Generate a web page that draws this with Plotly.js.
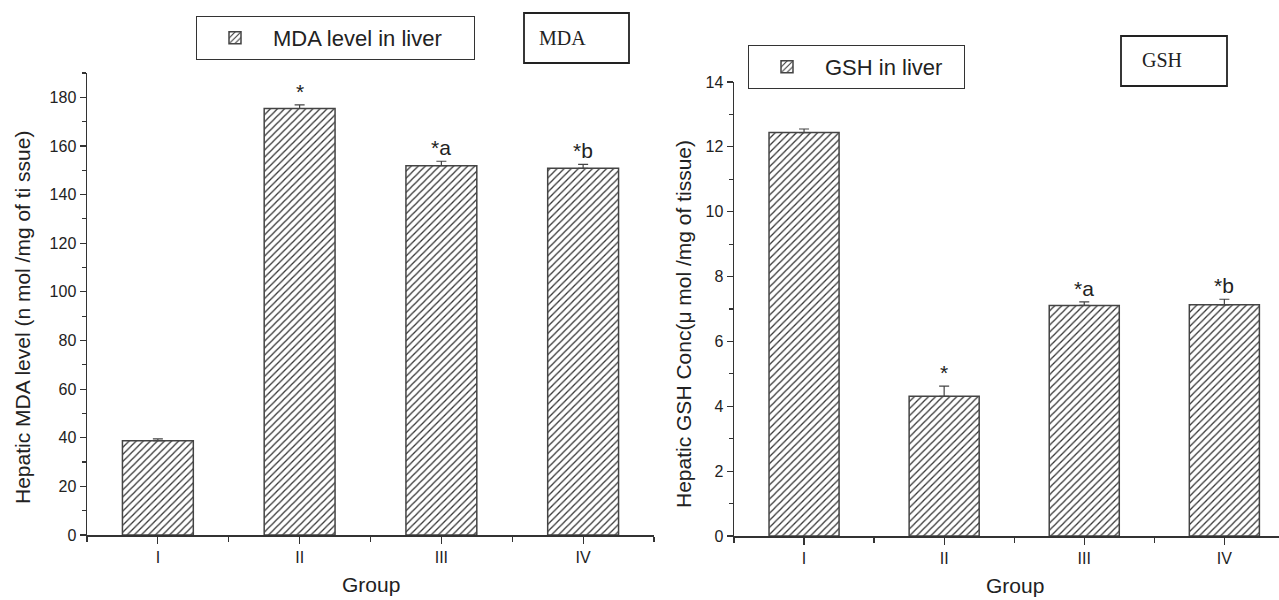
<!DOCTYPE html>
<html>
<head>
<meta charset="utf-8">
<script src="https://cdn.plot.ly/plotly-3.0.1.min.js"></script>
<style>html,body{margin:0;padding:0;background:#fff;}#chart{width:1279px;height:600px;}</style>
</head>
<body>
<div id="chart"></div>
<script>
// ---- data ----
const categories = ["I", "II", "III", "IV"];
const mdaValues = [38.8, 175.4, 151.9, 150.8];
const mdaErrors = [0.7, 1.5, 1.8, 1.6];
const gshValues = [12.44, 4.31, 7.11, 7.13];
const gshErrors = [0.11, 0.31, 0.11, 0.17];
const sigLabels = ["", "*", "*a", "*b"];
const mdaTicks = [0, 20, 40, 60, 80, 100, 120, 140, 160, 180];
const gshTicks = [0, 2, 4, 6, 8, 10, 12, 14];

const xpos = categories.map((c, i) => i + 1);
const zeros = categories.map(() => 0);
const ink = "#333";
const txt = "#222";
const font = "Liberation Sans, Arial, sans-serif";
const serif = "Liberation Serif, Times New Roman, serif";
const W = 1279, H = 600;

function barTrace(vals, errs, name, xa, ya, leg) {
  return {
    type: "bar", x: xpos, y: vals, name: name, xaxis: xa, yaxis: ya, legend: leg,
    width: 0.5, showlegend: true,
    marker: {
      color: "#fff",
      line: {color: "#444", width: 1.5},
      pattern: {shape: "/", fgcolor: "#333", bgcolor: "#fff", size: 5, solidity: 0.25}
    },
    error_y: {type: "data", symmetric: false, array: errs, arrayminus: zeros,
      color: "#444", thickness: 1.2, width: 5},
    hoverinfo: "x+y"
  };
}

const traces = [
  barTrace(mdaValues, mdaErrors, "MDA level in liver", "x", "y", "legend"),
  barTrace(gshValues, gshErrors, "GSH in liver", "x2", "y2", "legend2")
];

function xAxis(domain, range, anchor) {
  return {
    domain: domain, range: range, anchor: anchor, type: "linear",
    tickmode: "array", tickvals: xpos, ticktext: categories,
    ticks: "outside", ticklen: 7, tickwidth: 1.2, tickcolor: ink,
    showline: true, linecolor: ink, linewidth: 1.5, showgrid: false, zeroline: false,
    tickfont: {family: font, size: 16, color: txt},
    minor: {tickmode: "array", tickvals: [0.5, 1.5, 2.5, 3.5, 4.5], ticks: "outside", ticklen: 5, tickwidth: 1.2, tickcolor: ink},
    fixedrange: true
  };
}
function yAxis(domain, range, ticks, anchor) {
  return {
    domain: domain, range: range, anchor: anchor,
    tickmode: "array", tickvals: ticks,
    ticks: "outside", ticklen: 6, tickwidth: 1.2, tickcolor: ink,
    minor: {dtick: (ticks[1] - ticks[0]) / 2, ticks: "outside", ticklen: 4, tickwidth: 1.2, tickcolor: ink},
    showline: true, linecolor: ink, linewidth: 1.5, showgrid: false, zeroline: false,
    tickfont: {family: font, size: 16, color: txt},
    fixedrange: true
  };
}

const annotations = [];
categories.forEach((c, i) => {
  if (sigLabels[i]) {
    annotations.push({xref: "x", yref: "y", x: xpos[i], y: mdaValues[i] + mdaErrors[i],
      text: sigLabels[i], showarrow: false, yanchor: "bottom", yshift: 0,
      font: {family: font, size: 21, color: txt}});
    annotations.push({xref: "x2", yref: "y2", x: xpos[i], y: gshValues[i] + gshErrors[i],
      text: sigLabels[i], showarrow: false, yanchor: "bottom", yshift: 0,
      font: {family: font, size: 21, color: txt}});
  }
});
// axis titles
function title(text, x, y, angle) {
  annotations.push({xref: "paper", yref: "paper", x: x / W, y: 1 - y / H, xanchor: "center", yanchor: "middle",
    text: text, textangle: angle, showarrow: false, font: {family: font, size: 21, color: txt}});
}
title("Hepatic MDA level (n mol /mg of ti ssue)", 22, 318, -90);
title("Hepatic GSH Conc(\u03bc mol /mg of tissue)", 683, 324, -90);
title("Group", 371, 584, 0);
title("Group", 1015, 585, 0);
// boxed labels
annotations.push({xref: "paper", yref: "paper", x: 537 / W, y: 1 - 38 / H, xanchor: "left", yanchor: "middle",
  text: "MDA", showarrow: false, font: {family: serif, size: 20, color: txt}});
annotations.push({xref: "paper", yref: "paper", x: 1140 / W, y: 1 - 60 / H, xanchor: "left", yanchor: "middle",
  text: "GSH", showarrow: false, font: {family: serif, size: 20, color: txt}});

const legendBase = {xanchor: "left", yanchor: "top", bordercolor: "#333", borderwidth: 1, orientation: "h",
  bgcolor: "#fff", font: {family: font, size: 22, color: txt}, itemwidth: 66, entrywidthmode: "pixels"};

const layout = {
  width: W, height: H,
  margin: {l: 0, r: 0, t: 0, b: 0},
  paper_bgcolor: "#fff", plot_bgcolor: "#fff",
  xaxis: xAxis([87 / W, 654 / W], [0.5, 4.5], "y"),
  yaxis: yAxis([1 - 535 / H, 1 - 73 / H], [0, 190], mdaTicks, "x"),
  xaxis2: xAxis([734 / W, 1], [0.5, 4.39], "y2"),
  yaxis2: yAxis([1 - 536 / H, 1 - 82 / H], [0, 14], gshTicks, "x2"),
  legend: Object.assign({}, legendBase, {x: 196 / W, y: 1 - 16 / H, entrywidth: 196}),
  legend2: Object.assign({}, legendBase, {x: 748 / W, y: 1 - 45 / H, entrywidth: 134}),
  shapes: [
    {type: "rect", xref: "paper", yref: "paper", x0: 524 / W, x1: 629 / W, y0: 1 - 63 / H, y1: 1 - 13 / H,
      line: {color: "#222", width: 1.8}},
    {type: "rect", xref: "paper", yref: "paper", x0: 1121 / W, x1: 1227 / W, y0: 1 - 86 / H, y1: 1 - 36 / H,
      line: {color: "#222", width: 1.8}}
  ],
  annotations: annotations,
  showlegend: true
};

Plotly.newPlot("chart", traces, layout, {displayModeBar: false, staticPlot: true});
</script>
</body>
</html>
